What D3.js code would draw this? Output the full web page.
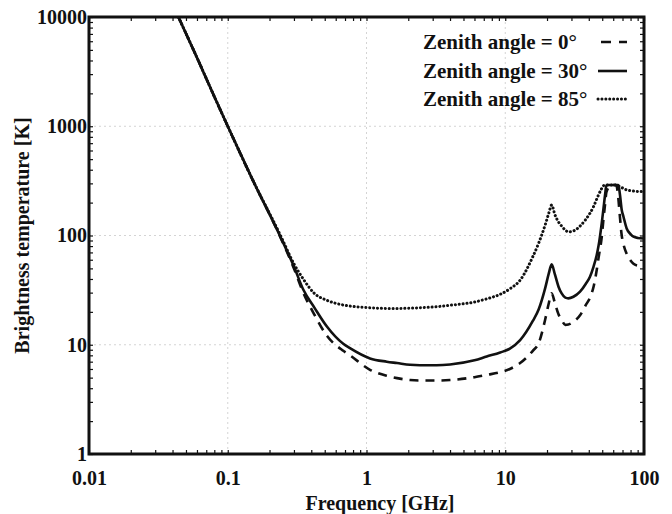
<!DOCTYPE html>
<html>
<head>
<meta charset="utf-8">
<script src="https://cdn.jsdelivr.net/npm/d3@7/dist/d3.min.js"></script>
<style>
  body { margin: 0; background: #fff; }
  text { font-family: "Liberation Serif", "DejaVu Serif", serif; fill: #111; font-weight: bold; }
</style>
</head>
<body>
<div class="chart"></div>
<script>
// Frequencies [GHz] shared by the three curves
var freq = [0.0441, 0.06, 0.08, 0.1, 0.15, 0.24, 0.3, 0.35, 0.42, 0.52, 0.68, 0.76, 1.06, 1.4, 1.66,
  2.06, 2.43, 3.2, 4, 6, 7.35, 9.2, 10.8, 12.8, 15.8, 17.4, 19.4, 20.6, 21.6, 22.8, 24.2, 25.5,
  27.1, 28.5, 31, 34.6, 38, 40.8, 43.3, 45.6, 47, 49.6, 51, 52.5, 53.6, 58, 63, 65.3, 67, 69.1,
  71, 75, 80, 84, 90, 100];

// Brightness temperature [K], zenith angle 0 deg (dashed)
var temp0 = [10000, 4250, 1870, 1000, 330, 96, 50, 30, 19, 12, 8.8, 8.0, 5.9, 5.2, 4.95,
  4.75, 4.7, 4.7, 4.75, 5.05, 5.3, 5.6, 6.0, 6.8, 8.8, 10.3, 17, 24, 29.6, 24, 19, 16.8,
  15.2, 15.3, 16.2, 18.6, 23, 27, 34, 48, 62, 97, 140, 197, 250, 290, 290, 220, 150, 100,
  84, 68, 59, 55, 53, 52];

// zenith angle 30 deg (solid)
var temp30 = [10000, 4250, 1870, 1000, 330, 97, 52, 32, 22, 14.6, 10.2, 9.3, 7.5, 7.0, 6.8,
  6.55, 6.5, 6.5, 6.6, 7.2, 7.8, 8.5, 9.2, 11, 16.5, 21, 33, 45, 54.5, 44, 34, 29.5,
  27, 26.6, 27.5, 30.6, 36, 42, 52, 66, 80, 130, 175, 240, 290, 290, 290, 290, 240, 171,
  150, 116, 103, 97.5, 95, 94];

// zenith angle 85 deg (dotted)
var temp85 = [10000, 4250, 1870, 1000, 330, 100, 55, 40, 29.6, 25.5, 23.1, 22.6, 21.8, 21.5, 21.5,
  21.6, 21.8, 22.3, 23, 24.6, 26.3, 29, 32.5, 39, 64, 85, 125, 160, 190, 155, 133, 122,
  112, 108, 110, 122, 140, 160, 184, 215, 235, 270, 285, 290, 290, 290, 290, 285, 280, 275,
  270, 261, 257, 255, 253, 252];

var legendLabels = ["Zenith angle = 0°", "Zenith angle = 30°", "Zenith angle = 85°"];
var xTickValues = [0.01, 0.1, 1, 10, 100];
var yTickValues = [1, 10, 100, 1000, 10000];

var svgWidth = 672;
var svgHeight = 514;

var margin = { top: 17, right: 28, bottom: 60, left: 89 };
var width = 644 - margin.left;
var height = 454 - margin.top;

var svg = d3.select(".chart")
  .append("svg")
  .attr("width", svgWidth)
  .attr("height", svgHeight);

var chart = svg.append("g")
  .attr("transform", "translate(" + margin.left + "," + margin.top + ")");

// Log scales on both axes
var xScale = d3.scaleLog().domain([0.01, 100]).range([0, width]);
var yScale = d3.scaleLog().domain([1, 10000]).range([height, 0]);

// Faint dotted grid at every decade
chart.append("g")
  .selectAll("line")
  .data(xTickValues.slice(1, -1))
  .enter()
  .append("line")
  .attr("x1", function(d) { return xScale(d); })
  .attr("x2", function(d) { return xScale(d); })
  .attr("y1", 0)
  .attr("y2", height)
  .attr("stroke", "#d4d4d4")
  .attr("stroke-dasharray", "2,3");

chart.append("g")
  .selectAll("line")
  .data(yTickValues.slice(1, -1))
  .enter()
  .append("line")
  .attr("x1", 0)
  .attr("x2", width)
  .attr("y1", function(d) { return yScale(d); })
  .attr("y2", function(d) { return yScale(d); })
  .attr("stroke", "#d4d4d4")
  .attr("stroke-dasharray", "2,3");

// Minor ticks (2..9 in every decade) on all four sides, pointing inward
var xMinor = xScale.ticks();
var yMinor = yScale.ticks();

function addAxis(axis, transform, values) {
  var g = chart.append("g")
    .attr("transform", transform)
    .call(axis.tickValues(values).tickFormat("").tickSizeOuter(0));
  g.select(".domain").remove();
  g.selectAll(".tick line").attr("stroke", "#111").attr("stroke-width", 1.2);
  return g;
}

addAxis(d3.axisTop(xScale).tickSize(4), "translate(0," + height + ")", xMinor);
addAxis(d3.axisBottom(xScale).tickSize(4), "translate(0,0)", xMinor);
addAxis(d3.axisRight(yScale).tickSize(4), "translate(0,0)", yMinor);
addAxis(d3.axisLeft(yScale).tickSize(4), "translate(" + width + ",0)", yMinor);

// Tick labels
var bottomAxis = chart.append("g")
  .attr("transform", "translate(0," + height + ")")
  .call(d3.axisBottom(xScale).tickValues(xTickValues).tickSize(0).tickPadding(17)
    .tickFormat(function(d) { return String(d); }));
bottomAxis.select(".domain").remove();
bottomAxis.selectAll("text")
  .style("font-size", "20px")
  .style("font-family", "'Liberation Serif', serif")
  .style("font-weight", "bold")
  .attr("fill", "#111");

var leftAxis = chart.append("g")
  .call(d3.axisLeft(yScale).tickValues(yTickValues).tickSize(0).tickPadding(2)
    .tickFormat(function(d) { return String(d); }));
leftAxis.select(".domain").remove();
leftAxis.selectAll("text")
  .style("font-size", "20px")
  .style("font-family", "'Liberation Serif', serif")
  .style("font-weight", "bold")
  .attr("fill", "#111");

// Curves
var line = d3.line()
  .x(function(d) { return xScale(d[0]); })
  .y(function(d) { return yScale(d[1]); })
  .curve(d3.curveMonotoneX);

var seriesList = [
  { values: temp0, dash: "9,7", cap: "butt", w: 2.6 },
  { values: temp30, dash: null, cap: "butt", w: 2.6 },
  { values: temp85, dash: "0.1,3.8", cap: "round", w: 3 }
];

chart.append("defs").append("clipPath")
  .attr("id", "plotClip")
  .append("rect")
  .attr("width", width)
  .attr("height", height);

var curves = chart.append("g").attr("clip-path", "url(#plotClip)");

seriesList.forEach(function(s) {
  var pts = freq.map(function(f, i) { return [f, s.values[i]]; });
  curves.append("path")
    .datum(pts)
    .attr("d", line)
    .attr("fill", "none")
    .attr("stroke", "#111")
    .attr("stroke-width", s.w)
    .attr("stroke-linecap", s.cap)
    .attr("stroke-dasharray", s.dash);
});

// Plot frame
chart.append("rect")
  .attr("width", width)
  .attr("height", height)
  .attr("fill", "none")
  .attr("stroke", "#111")
  .attr("stroke-width", 3);

// Legend
var legendY = [49, 78, 106];
var legend = chart.append("g");

legendLabels.forEach(function(label, i) {
  legend.append("text")
    .attr("x", 423 - margin.left)
    .attr("y", legendY[i] - margin.top)
    .style("font-size", "21px")
    .text(label);
  legend.append("line")
    .attr("x1", (i === 0 ? 601 : 598) - margin.left)
    .attr("x2", 627 - margin.left)
    .attr("y1", legendY[i] - 7 - margin.top)
    .attr("y2", legendY[i] - 7 - margin.top)
    .attr("stroke", "#111")
    .attr("stroke-width", seriesList[i].w)
    .attr("stroke-linecap", seriesList[i].cap)
    .attr("stroke-dasharray", i === 0 ? "10,8" : seriesList[i].dash);
});

// Axis titles
svg.append("text")
  .attr("x", 380)
  .attr("y", 510)
  .attr("text-anchor", "middle")
  .style("font-size", "20px")
  .text("Frequency [GHz]");

svg.append("text")
  .attr("transform", "translate(29," + (margin.top + height / 2) + ") rotate(-90)")
  .attr("text-anchor", "middle")
  .style("font-size", "20px")
  .text("Brightness temperature [K]");
</script>
</body>
</html>
